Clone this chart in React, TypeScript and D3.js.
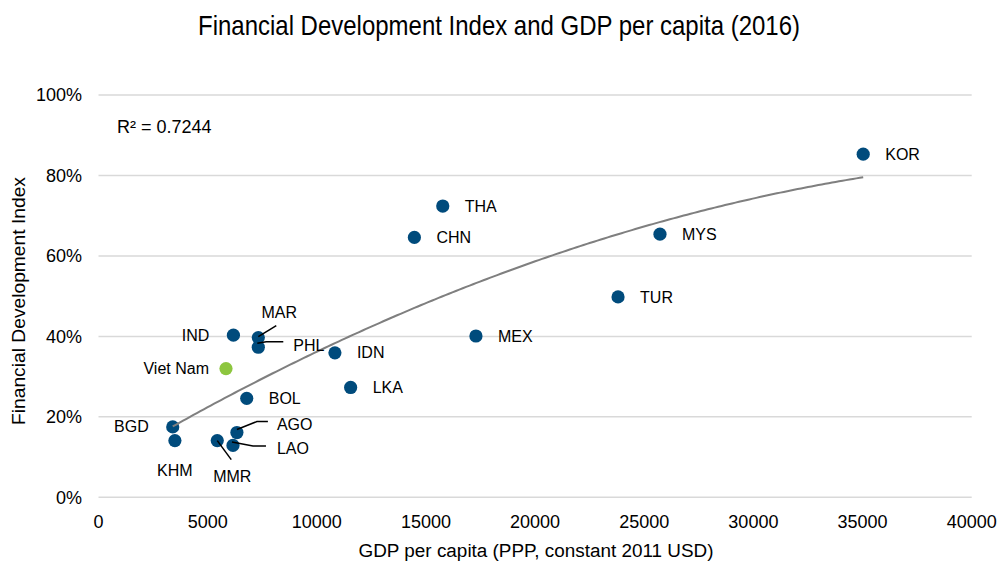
import * as d3 from "d3"
import React, { useEffect, useRef } from "react"

// chart data
const countries = ["KOR", "THA", "CHN", "MYS", "TUR", "MEX", "IDN", "LKA", "BOL", "IND", "MAR", "PHL", "Viet Nam", "BGD", "KHM", "MMR", "AGO", "LAO"]
const gdpPerCapita = [35030, 15770, 14470, 25720, 23800, 17290, 10830, 11550, 6790, 6180, 7320, 7320, 5840, 3400, 3500, 5440, 6340, 6160]
const finDevIndex = [0.853, 0.724, 0.646, 0.654, 0.498, 0.401, 0.359, 0.273, 0.246, 0.403, 0.397, 0.373, 0.32, 0.175, 0.141, 0.141, 0.161, 0.129]
const highlighted = "Viet Nam"

const xTicks = [0, 5000, 10000, 15000, 20000, 25000, 30000, 35000, 40000]
const yTicks = [0, 0.2, 0.4, 0.6, 0.8, 1]

const chartTitle = "Financial Development Index and GDP per capita (2016)"
const xTitle = "GDP per capita (PPP, constant 2011 USD)"
const yTitle = "Financial Development Index"
const rSquaredText = "R² = 0.7244"

// layout
const W = 1002, H = 563
const plot = { left: 98.5, right: 971.7, top: 95, bottom: 497.3 }
const FONT = "'Liberation Sans', Arial, sans-serif"
const BLUE = "#004b7c"
const GREEN = "#8dc63f"

// where each label sits relative to its point (default: to the right)
type Placement = { anchor?: string, dx: number, dy: number, leader?: number[][] }
const placements: Record<string, Placement> = {
  IND: { anchor: "end", dx: -24, dy: 0 },
  "Viet Nam": { anchor: "end", dx: -17, dy: 0 },
  BGD: { anchor: "end", dx: -24, dy: 0 },
  KHM: { anchor: "middle", dx: 0, dy: 30 },
  MMR: { anchor: "middle", dx: 15, dy: 36, leader: [[0, 0], [14, 19]] },
  MAR: { anchor: "middle", dx: 21, dy: -25, leader: [[0, -1], [18, -12]] },
  PHL: { anchor: "start", dx: 35, dy: -2, leader: [[-1, -4], [8, -5.5], [25, -5.5]] },
  AGO: { anchor: "start", dx: 40, dy: -8, leader: [[0, -3], [20, -11], [31, -11]] },
  LAO: { anchor: "start", dx: 44, dy: 3, leader: [[-1, -3.5], [20, 0.5], [33, 0.5]] },
}

// least squares 2nd order polynomial (like the Excel trendline)
function polyFit2(xs: number[], ys: number[]) {
  const s = [0, 0, 0, 0, 0], t = [0, 0, 0]
  xs.forEach((x, i) => {
    for (let k = 0; k < 5; k++) s[k] += Math.pow(x, k)
    for (let k = 0; k < 3; k++) t[k] += Math.pow(x, k) * ys[i]
  })
  const m = [[s[0], s[1], s[2], t[0]], [s[1], s[2], s[3], t[1]], [s[2], s[3], s[4], t[2]]]
  for (let c = 0; c < 3; c++) {
    for (let r = c + 1; r < 3; r++) {
      const f = m[r][c] / m[c][c]
      for (let k = c; k < 4; k++) m[r][k] -= f * m[c][k]
    }
  }
  const b = [0, 0, 0]
  for (let r = 2; r >= 0; r--) {
    let v = m[r][3]
    for (let k = r + 1; k < 3; k++) v -= m[r][k] * b[k]
    b[r] = v / m[r][r]
  }
  return (x: number) => b[0] + b[1] * x + b[2] * x * x
}

export default function App() {
  const ref = useRef<SVGSVGElement>(null)

  useEffect(() => {
    const svg = d3.select(ref.current)
    svg.selectAll("*").remove()

    const x = d3.scaleLinear().domain([0, 40000]).range([plot.left, plot.right])
    const y = d3.scaleLinear().domain([0, 1]).range([plot.bottom, plot.top])

    const points = countries.map((c, i) => ({ name: c, gdp: gdpPerCapita[i], fdi: finDevIndex[i] }))

    //title
    svg.append("text")
      .attr("x", 499).attr("y", 35)
      .attr("text-anchor", "middle")
      .attr("font-family", FONT).attr("font-size", 28.5)
      .attr("textLength", 602).attr("lengthAdjust", "spacingAndGlyphs")
      .attr("fill", "#000")
      .text(chartTitle)

    //horizontal gridlines
    svg.append("g").selectAll("line")
      .data(yTicks).enter().append("line")
      .attr("x1", plot.left).attr("x2", plot.right)
      .attr("y1", d => y(d)).attr("y2", d => y(d))
      .attr("stroke", "#d9d9d9").attr("stroke-width", 1.5)

    //y tick labels
    svg.append("g").selectAll("text")
      .data(yTicks).enter().append("text")
      .attr("x", 82).attr("y", d => y(d)).attr("dy", "0.35em")
      .attr("text-anchor", "end")
      .attr("font-family", FONT).attr("font-size", 18).attr("fill", "#000")
      .text(d => d3.format(".0%")(d))

    //x tick labels
    svg.append("g").selectAll("text")
      .data(xTicks).enter().append("text")
      .attr("x", d => x(d)).attr("y", 528)
      .attr("text-anchor", "middle")
      .attr("font-family", FONT).attr("font-size", 18).attr("fill", "#000")
      .text(d => String(d))

    //axis titles
    svg.append("text")
      .attr("x", 536).attr("y", 557)
      .attr("text-anchor", "middle")
      .attr("font-family", FONT).attr("font-size", 18).attr("fill", "#000")
      .attr("textLength", 355).attr("lengthAdjust", "spacingAndGlyphs")
      .text(xTitle)
    svg.append("text")
      .attr("transform", "translate(25,301) rotate(-90)")
      .attr("text-anchor", "middle")
      .attr("font-family", FONT).attr("font-size", 18).attr("fill", "#000")
      .attr("textLength", 248).attr("lengthAdjust", "spacingAndGlyphs")
      .text(yTitle)

    svg.append("text")
      .attr("x", 117).attr("y", 133)
      .attr("font-family", FONT).attr("font-size", 18).attr("fill", "#000")
      .text(rSquaredText)

    //points
    svg.append("g").selectAll("circle")
      .data(points).enter().append("circle")
      .attr("cx", d => x(d.gdp)).attr("cy", d => y(d.fdi))
      .attr("r", 6.6)
      .attr("fill", d => d.name === highlighted ? GREEN : BLUE)

    //polynomial trendline, fitted in thousands of USD
    const fit = polyFit2(gdpPerCapita.map(v => v / 1000), finDevIndex)
    const [xMin, xMax] = d3.extent(gdpPerCapita) as [number, number]
    const xs = d3.range(xMin, xMax, (xMax - xMin) / 200).concat([xMax])
    svg.append("path")
      .datum(xs)
      .attr("fill", "none").attr("stroke", "#7f7f7f").attr("stroke-width", 2)
      .attr("d", d3.line<number>().x(d => x(d)).y(d => y(fit(d / 1000))))

    //leader lines
    const leaderLine = d3.line<number[]>().x(d => d[0]).y(d => d[1])
    svg.append("g").selectAll("path")
      .data(points.filter(p => placements[p.name] && placements[p.name].leader))
      .enter().append("path")
      .attr("fill", "none").attr("stroke", "#000").attr("stroke-width", 1.5)
      .attr("d", d => leaderLine(placements[d.name].leader!.map(o => [x(d.gdp) + o[0], y(d.fdi) + o[1]])))

    //data labels
    svg.append("g").selectAll("text")
      .data(points).enter().append("text")
      .attr("x", d => x(d.gdp) + (placements[d.name] ? placements[d.name].dx : 22))
      .attr("y", d => y(d.fdi) + (placements[d.name] ? placements[d.name].dy : 0))
      .attr("dy", "0.35em")
      .attr("text-anchor", d => placements[d.name] && placements[d.name].anchor ? placements[d.name].anchor! : "start")
      .attr("font-family", FONT).attr("font-size", 16).attr("fill", "#000")
      .text(d => d.name)
  }, [])

  return (
    <svg
      ref={ref}
      width={W}
      height={H}
      viewBox={`0 0 ${W} ${H}`}
      style={{ position: "absolute", left: 0, top: 0, background: "#fff" }}
    />
  )
}
